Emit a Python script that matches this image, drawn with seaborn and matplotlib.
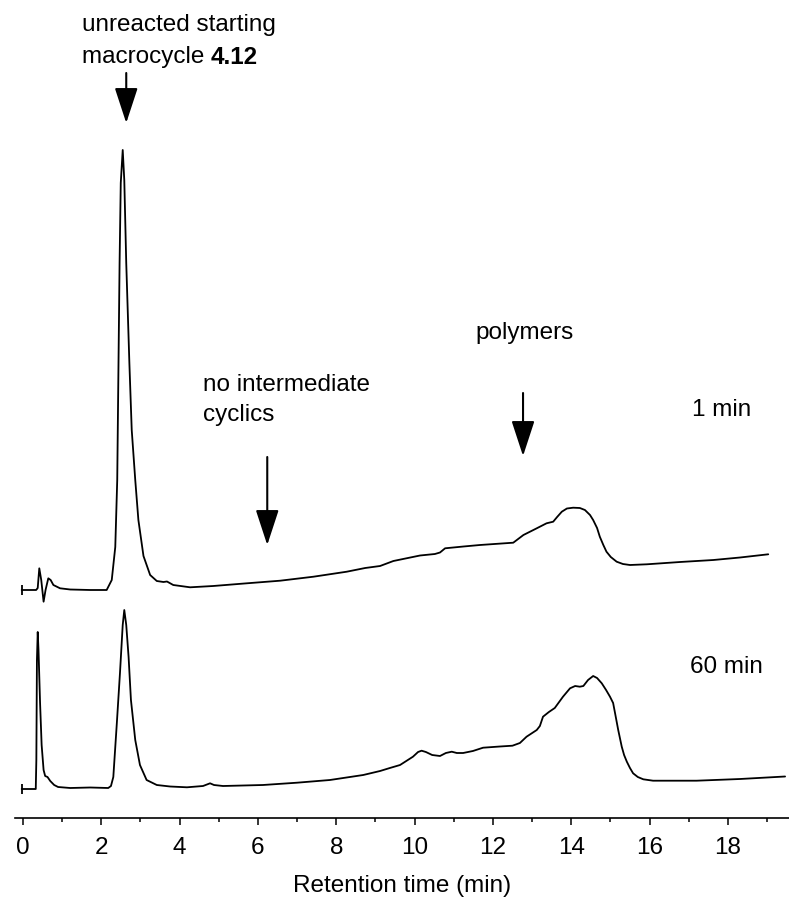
import matplotlib
matplotlib.use("Agg")
import matplotlib.pyplot as plt
import seaborn as sns
import numpy as np
import pandas as pd

# ---- data (retention time in min, detector signal in a.u.) ----
t_1min = [-0.03, 0.34, 0.38, 0.42, 0.47, 0.53, 0.58, 0.65, 0.71, 0.78, 0.95, 1.21, 1.72,
          2.14, 2.27, 2.36, 2.41, 2.47, 2.50, 2.55, 2.59, 2.64, 2.72, 2.78, 2.87, 2.95,
          3.08, 3.25, 3.42, 3.59, 3.68, 3.84, 4.27, 4.86, 5.72, 6.57, 7.42, 8.27, 8.74,
          9.12, 9.46, 10.14, 10.52, 10.65, 10.78, 11.25, 11.67, 12.52, 12.78, 13.12,
          13.37, 13.54, 13.64, 13.76, 13.89, 14.05, 14.22, 14.35, 14.48, 14.56, 14.66,
          14.73, 14.82, 14.90, 15.01, 15.16, 15.32, 15.50, 15.93, 16.78, 17.63, 18.31, 19.03]
s_1min = [0.0, 0.0, 0.2, 2.17, 1.0, -1.17, 0.0, 1.17, 1.0, 0.5, 0.17, 0.05, 0.0,
          0.0, 1.0, 4.3, 11.0, 32.7, 40.7, 44.0, 41.0, 32.7, 22.7, 16.0, 11.0, 7.0,
          3.4, 1.5, 0.9, 0.8, 0.85, 0.5, 0.27, 0.4, 0.67, 0.93, 1.33, 1.83, 2.2,
          2.4, 2.9, 3.45, 3.6, 3.75, 4.17, 4.35, 4.5, 4.73, 5.5, 6.17,
          6.67, 6.83, 7.3, 7.83, 8.15, 8.23, 8.2, 8.0, 7.5, 7.0, 6.2,
          5.33, 4.5, 3.83, 3.3, 2.83, 2.6, 2.5, 2.57, 2.8, 3.0, 3.25, 3.57]

t_60min = [-0.03, 0.33, 0.345, 0.36, 0.38, 0.40, 0.44, 0.48, 0.53, 0.57, 0.63, 0.70, 0.80,
           0.90, 1.21, 1.72, 2.18, 2.25, 2.31, 2.40, 2.48, 2.55, 2.59, 2.64, 2.70, 2.76,
           2.87, 2.99, 3.16, 3.42, 3.76, 4.19, 4.60, 4.70, 4.78, 4.88, 5.11, 6.13, 7.00,
           7.84, 8.69, 9.12, 9.37, 9.63, 9.96, 10.09, 10.18, 10.29, 10.45, 10.65, 10.80,
           10.95, 11.08, 11.24, 11.49, 11.75, 12.18, 12.50, 12.69, 12.86, 13.12, 13.20,
           13.28, 13.43, 13.58, 13.79, 13.97, 14.10, 14.22, 14.31, 14.43, 14.56, 14.66,
           14.78, 14.89, 14.99, 15.07, 15.12, 15.20, 15.29, 15.35, 15.42, 15.50, 15.58,
           15.70, 15.84, 16.09, 17.20, 18.31, 19.46]
s_60min = [0.0, 0.0, 2.9, 12.9, 15.7, 13.9, 8.6, 4.4, 1.9, 1.3, 1.2, 0.8, 0.4,
           0.2, 0.1, 0.15, 0.1, 0.3, 1.2, 6.6, 11.6, 16.4, 17.9, 16.4, 13.2, 8.9,
           4.9, 2.4, 0.9, 0.4, 0.25, 0.17, 0.3, 0.45, 0.57, 0.4, 0.3, 0.4, 0.63,
           0.9, 1.4, 1.8, 2.1, 2.4, 3.23, 3.7, 3.83, 3.7, 3.4, 3.3, 3.6,
           3.73, 3.6, 3.6, 3.8, 4.13, 4.25, 4.33, 4.6, 5.23, 5.9, 6.3,
           7.23, 7.7, 8.1, 9.23, 10.07, 10.3, 10.23, 10.3, 10.9, 11.3, 11.1,
           10.57, 9.9, 9.23, 8.6, 7.57, 5.9, 4.23, 3.4, 2.73, 2.1, 1.57,
           1.2, 0.97, 0.83, 0.83, 1.0, 1.25]

trace_names = ["1 min", "60 min"]
trace_offsets = [22.8, 2.9]          # vertical stacking of the traces
x_ticks = [0, 2, 4, 6, 8, 10, 12, 14, 16, 18]
x_label = "Retention time (min)"

# ---- figure ----
sns.set_style("white")
plt.rcParams["font.family"] = ["Liberation Sans", "DejaVu Sans"]
plt.rcParams["text.color"] = "black"
plt.rcParams["axes.labelcolor"] = "black"
plt.rcParams["xtick.color"] = "black"
plt.rcParams["xtick.labelcolor"] = "black"
FS = 17.5

fig = plt.figure(figsize=(7.89, 8.99), dpi=100)
ax = fig.add_axes([15 / 789, 81 / 899, 774 / 789, 818 / 899])

df = pd.concat([
    pd.DataFrame({"t": t_1min, "signal": np.array(s_1min) + trace_offsets[0], "trace": trace_names[0]}),
    pd.DataFrame({"t": t_60min, "signal": np.array(s_60min) + trace_offsets[1], "trace": trace_names[1]}),
])
for name in trace_names:
    sub = df[df["trace"] == name]
    sns.lineplot(data=sub, x="t", y="signal", ax=ax, color="black", lw=1.3,
                 sort=False, estimator=None, legend=False)
    ax.plot(sub["t"].iloc[0], sub["signal"].iloc[0], marker="|", ms=7, mew=1.3, color="black")

ax.set_xlim(-0.2, 19.56)
ax.set_ylim(0, 81.8)
ax.set_yticks([])
ax.set_ylabel("")
for sp in ["left", "top", "right"]:
    ax.spines[sp].set_visible(False)
ax.spines["bottom"].set_linewidth(1.2)
ax.spines["bottom"].set_color("black")
ax.set_xticks(x_ticks)
ax.set_xticks(np.arange(1, 20, 2), minor=True)
ax.tick_params(axis="x", which="major", direction="out", length=5, width=1.1,
               labelsize=FS, pad=9, bottom=True, colors="black")
ax.tick_params(axis="x", which="minor", direction="out", length=3, width=1.1, bottom=True,
               colors="black")
ax.set_xlabel(x_label, fontsize=FS, labelpad=11, color="black")

arrow = dict(arrowstyle="-|>,head_length=1.1,head_width=0.36", mutation_scale=20,
             lw=1.5, color="black", shrinkA=0, shrinkB=0)

# annotations
ax.text(1.51, 79.3, "unreacted starting", fontsize=FS, ha="left", va="center")
t2 = ax.text(1.51, 76.1, "macrocycle ", fontsize=FS, ha="left", va="center")
ax.annotate("4.12", xy=(1, 0.5), xycoords=t2, fontsize=FS, fontweight="bold",
            ha="left", va="center")
ax.annotate("", xy=(2.64, 69.5), xytext=(2.64, 74.5), arrowprops=arrow)

ax.text(4.60, 43.3, "no intermediate", fontsize=FS, ha="left", va="center")
ax.text(4.60, 40.3, "cyclics", fontsize=FS, ha="left", va="center")
ax.annotate("", xy=(6.24, 27.3), xytext=(6.24, 36.1), arrowprops=arrow)

ax.text(12.82, 48.5, "polymers", fontsize=FS, ha="center", va="center")
ax.annotate("", xy=(12.77, 36.2), xytext=(12.77, 42.5), arrowprops=arrow)

ax.text(17.08, 40.8, trace_names[0], fontsize=FS, ha="left", va="center")
ax.text(17.03, 15.1, trace_names[1], fontsize=FS, ha="left", va="center")

fig.savefig("out.png", dpi=100)
